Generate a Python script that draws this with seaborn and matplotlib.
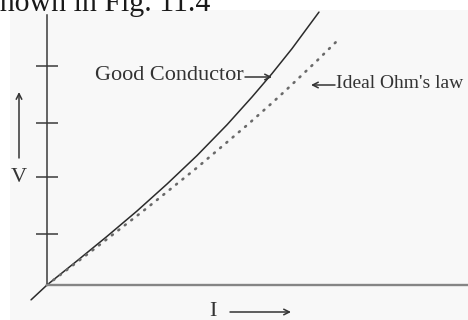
import matplotlib
matplotlib.use("Agg")
import matplotlib.pyplot as plt
import seaborn as sns
import pandas as pd

# Current (I) and voltage (V) in arbitrary units
good_I = [-0.29, 0.0, 0.545, 1.091, 1.636, 2.182, 2.727, 3.273, 3.727,
          4.091, 4.455, 4.727, 4.945]
good_V = [-0.27, 0.0, 0.438, 0.884, 1.345, 1.836, 2.353, 2.913, 3.418,
          3.844, 4.298, 4.667, 4.962]

ideal_I = [0.0, 0.909, 1.818, 2.727, 3.636, 4.091, 4.364, 4.909, 5.327]
ideal_V = [0.0, 0.693, 1.400, 2.133, 2.905, 3.309, 3.560, 4.078, 4.490]

v_ticks = [0.93, 1.96, 2.95, 3.98]

good = pd.DataFrame({"I": good_I, "V": good_V})
ideal = pd.DataFrame({"I": ideal_I, "V": ideal_V})

sns.set_style("white")
plt.rcParams["font.family"] = ["Liberation Serif", "DejaVu Serif"]

W, H = 468, 320
fig = plt.figure(figsize=(W / 100, H / 100), dpi=100, facecolor="white")

# faint scanned-panel tone behind the diagram
fig.patches.append(plt.Rectangle((10 / W, 0), 1, (H - 10) / H,
                                 transform=fig.transFigure,
                                 facecolor="#f8f8f8", edgecolor="none",
                                 zorder=-10))

ax = fig.add_axes([47 / W, 35 / H, 421 / W, 270 / H])
ax.set_facecolor("none")
ax.set_xlim(0, 421 / 55)
ax.set_ylim(0, 270 / 55)

sns.lineplot(data=good, x="I", y="V", sort=False, ax=ax, color="#2b2b2b",
             linewidth=1.1, clip_on=False)
sns.lineplot(data=ideal, x="I", y="V", sort=False, ax=ax, color="#6a6a6a",
             linewidth=1.9, linestyle=(0, (0.4, 2.7)), dash_capstyle="round",
             clip_on=False)

for s in ("top", "right"):
    ax.spines[s].set_visible(False)
ax.spines["left"].set_color("#3a3a3a")
ax.spines["left"].set_linewidth(1.1)
ax.spines["bottom"].set_color("#858585")
ax.spines["bottom"].set_linewidth(1.7)

ax.set_xticks([])
ax.set_yticks(v_ticks)
ax.tick_params(axis="y", left=True, direction="inout", length=16, width=1.1,
               color="#3a3a3a", labelleft=False)
ax.set_xlabel("")
ax.set_ylabel("")

# page text running above the figure
fig.text(-11.5 / W, (H - 11) / H, "shown in Fig. 11.4", fontsize=21.5,
         color="#1a1a1a", ha="left", va="baseline")

txt = dict(color="#333333")
arrow = dict(arrowstyle="->", color="#333333", lw=1.1, shrinkA=0, shrinkB=0)

def fp(x, y):
    return (x, H - y)

ax.annotate("Good Conductor", xy=fp(244, 76), xycoords="figure pixels",
            ha="right", va="center", fontsize=16, **txt)
ax.annotate("", xy=fp(272, 77), xytext=fp(245, 77),
            xycoords="figure pixels", textcoords="figure pixels",
            arrowprops=arrow)

ax.annotate("Ideal Ohm's law", xy=fp(336, 83), xycoords="figure pixels",
            ha="left", va="center", annotation_clip=False, fontsize=14,
            **txt)
ax.annotate("", xy=fp(311, 85), xytext=fp(335, 85),
            xycoords="figure pixels", textcoords="figure pixels",
            arrowprops=arrow)

ax.annotate("V", xy=fp(19, 178), xycoords="figure pixels",
            ha="center", va="center", fontsize=16, **txt)
ax.annotate("", xy=fp(19, 92), xytext=fp(19, 158),
            xycoords="figure pixels", textcoords="figure pixels",
            arrowprops=arrow)

ax.annotate("I", xy=fp(213, 311), xycoords="figure pixels",
            ha="center", va="center", fontsize=16, **txt)
ax.annotate("", xy=fp(291, 312), xytext=fp(230, 312),
            xycoords="figure pixels", textcoords="figure pixels",
            arrowprops=arrow)

fig.savefig("out.png", dpi=100, facecolor="white")
